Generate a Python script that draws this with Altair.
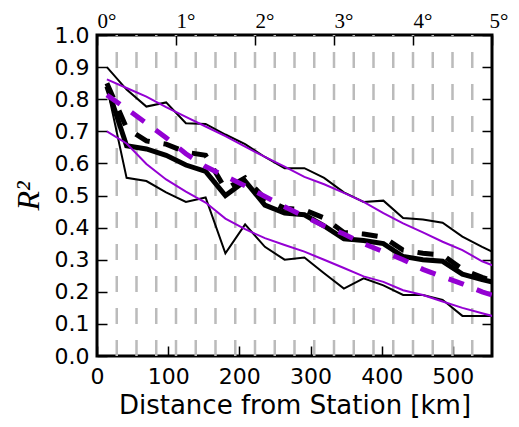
import altair as alt
import pandas as pd

# Bin centres (km) of the distance bins
distance_km = [13.9, 41.6, 69.4, 97.1, 124.9, 152.6, 180.4, 208.1, 235.9, 263.6,
               291.4, 319.1, 346.9, 374.6, 402.4, 430.1, 457.9, 485.6, 513.4, 541.1, 568.9]

black_upper = [0.90, 0.83, 0.777, 0.79, 0.725, 0.723, 0.69, 0.66, 0.62, 0.585,
               0.585, 0.555, 0.51, 0.48, 0.484, 0.43, 0.425, 0.415, 0.372, 0.34, 0.31]
black_lower = [0.84, 0.555, 0.545, 0.51, 0.48, 0.494, 0.32, 0.41, 0.34, 0.30,
               0.307, 0.258, 0.21, 0.242, 0.22, 0.19, 0.19, 0.175, 0.125, 0.125, 0.125]
black_mean = [0.84, 0.655, 0.645, 0.625, 0.595, 0.575, 0.50, 0.545, 0.47, 0.445,
              0.44, 0.405, 0.365, 0.36, 0.35, 0.31, 0.30, 0.295, 0.255, 0.238, 0.224]
black_median = [0.85, 0.71, 0.67, 0.66, 0.635, 0.625, 0.52, 0.555, 0.49, 0.46,
                0.455, 0.43, 0.385, 0.38, 0.37, 0.33, 0.32, 0.315, 0.27, 0.245, 0.225]
purple_upper = [0.862, 0.835, 0.808, 0.775, 0.745, 0.715, 0.685, 0.652, 0.62, 0.59,
                0.558, 0.535, 0.508, 0.48, 0.445, 0.413, 0.385, 0.356, 0.33, 0.295, 0.271]
purple_lower = [0.70, 0.662, 0.598, 0.55, 0.512, 0.478, 0.428, 0.395, 0.367, 0.346,
                0.325, 0.30, 0.274, 0.248, 0.231, 0.205, 0.19, 0.17, 0.15, 0.133, 0.117]
purple_mid = [0.813, 0.77, 0.725, 0.68, 0.63, 0.59, 0.56, 0.53, 0.497, 0.465,
              0.435, 0.405, 0.38, 0.35, 0.325, 0.30, 0.27, 0.247, 0.225, 0.20, 0.18]

# Vertical dashed guide lines (every quarter degree)
grid_km = [27.75, 55.5, 83.25, 111.0, 138.75, 166.5, 194.25, 222.0, 249.75, 277.5,
           305.25, 333.0, 360.75, 388.5, 416.25, 444.0, 471.75, 499.5, 527.25]

x_ticks = [0, 100, 200, 300, 400, 500]
deg_ticks_km = [0, 111, 222, 333, 444, 555]
y_ticks = [0.0, 0.1, 0.2, 0.3, 0.4, 0.5, 0.6, 0.7, 0.8, 0.9, 1.0]

PURPLE = "#9400D3"

lines_df = pd.DataFrame({
    "distance": distance_km,
    "black_upper": black_upper,
    "black_lower": black_lower,
    "black_mean": black_mean,
    "black_median": black_median,
    "purple_upper": purple_upper,
    "purple_lower": purple_lower,
    "purple_mid": purple_mid,
})
grid_df = pd.DataFrame({"km": grid_km, "y0": [0.0] * len(grid_km), "y1": [1.0] * len(grid_km)})

xs = alt.Scale(domain=[0, 555], nice=False, zero=False)
ys = alt.Scale(domain=[0, 1], nice=False, zero=False)

bottom_axis = alt.Axis(
    orient="bottom", values=x_ticks, offset=-10, tickSize=10, tickWidth=1.5,
    tickColor="black", domain=False, grid=False, labelFlush=False,
    labelFont="DejaVu Sans", labelFontSize=22, labelPadding=10, labelColor="black",
    title="Distance from Station [km]", titleFont="DejaVu Sans", titleFontSize=26,
    titleFontWeight="normal", titleColor="black", titlePadding=5,
)
left_axis = alt.Axis(
    orient="left", values=y_ticks, format=".1f", offset=-10, tickSize=10,
    tickWidth=1.5, tickColor="black", domain=False, grid=False,
    labelFont="DejaVu Sans", labelFontSize=22, labelPadding=8, labelColor="black",
    labelOverlap=False,
    title="R²", titleFont="Liberation Serif", titleFontStyle="italic",
    titleFontSize=32, titleFontWeight="normal", titleColor="black", titlePadding=9,
)
top_axis = alt.Axis(
    orient="top", values=deg_ticks_km, offset=-10, tickSize=10, tickWidth=1.5,
    tickColor="black", domain=False, grid=False, labelFlush=False,
    labelExpr="round(datum.value / 111) + '°'", labelAlign="left",
    labelBaseline="alphabetic", labelFont="Liberation Serif", labelFontSize=21,
    labelPadding=8, labelColor="black", title=None,
    labelOffset={"condition": {"test": "datum.value > 500", "value": -3}, "value": 0},
)
right_axis = alt.Axis(
    orient="right", values=y_ticks, offset=-10, tickSize=10, tickWidth=1.5,
    tickColor="black", domain=False, grid=False, labels=False, title=None,
)

grid = alt.Chart(grid_df).mark_rule(
    color="#bbbbbb", strokeWidth=2.5, strokeDash=[16, 16]
).encode(
    x=alt.X("km:Q", scale=xs, axis=top_axis),
    y=alt.Y("y0:Q", scale=ys, axis=right_axis),
    y2="y1:Q",
)


def line(field, color, width, dash=None):
    kw = dict(color=color, strokeWidth=width, clip=True, strokeJoin="miter")
    if dash is not None:
        kw["strokeDash"] = dash
    return alt.Chart(lines_df).mark_line(**kw).encode(
        x=alt.X("distance:Q", scale=xs, axis=bottom_axis),
        y=alt.Y(f"{field}:Q", scale=ys, axis=left_axis),
    )


lines = alt.layer(
    line("black_upper", "black", 2),
    line("black_lower", "black", 2),
    line("black_mean", "black", 5),
    line("black_median", "black", 5, [16, 14]),
    line("purple_upper", PURPLE, 2),
    line("purple_lower", PURPLE, 2),
    line("purple_mid", PURPLE, 5, [16, 14]),
)

chart = alt.layer(grid, lines).resolve_scale(
    x="independent", y="independent"
).properties(
    width=395, height=321,
    autosize=alt.AutoSizeParams(type="none"),
    padding={"left": 89, "top": 27, "right": 18, "bottom": 62},
).configure_view(stroke="black", strokeWidth=3)

chart.save("out.html", embed_options={"renderer": "svg", "actions": False})
